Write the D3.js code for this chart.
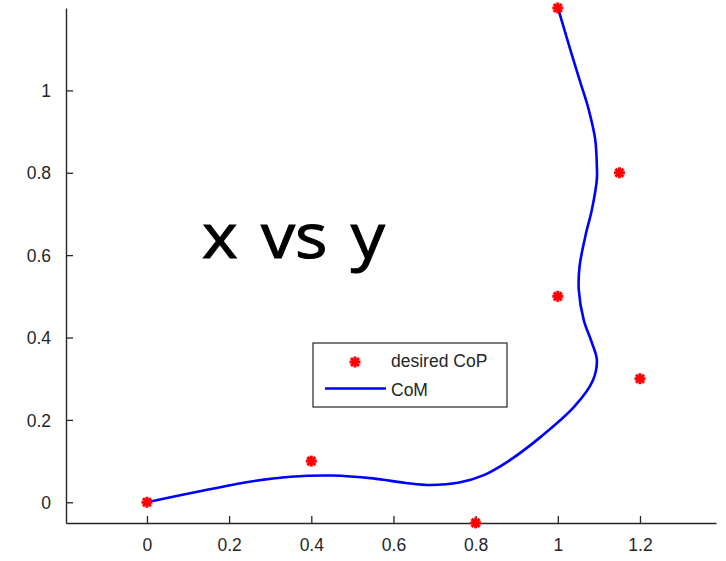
<!DOCTYPE html>
<html>
<head>
<meta charset="utf-8">
<script src="https://cdn.jsdelivr.net/npm/d3@7"></script>
<style>
  body { margin: 0; background: #fff; }
  svg { display: block; }
</style>
</head>
<body>
<div id="chart"></div>
<script>
// desired CoP points
var copX = [0, 0.4, 0.8, 1, 1.2, 1.15, 1];
var copY = [0, 0.1, -0.05, 0.5, 0.3, 0.8, 1.2];

// CoM trajectory
var comX = [0, 0.12, 0.25, 0.35, 0.45, 0.55, 0.63, 0.69, 0.76, 0.82, 0.88, 0.96, 1.04, 1.085, 1.095,
            1.083, 1.063, 1.051, 1.053, 1.067, 1.083, 1.095, 1.095, 1.091, 1.075, 1.055, 1.03, 1.006, 1];
var comY = [0, 0.025, 0.05, 0.062, 0.065, 0.058, 0.047, 0.042, 0.048, 0.066, 0.1, 0.16, 0.232, 0.295, 0.346,
            0.387, 0.443, 0.516, 0.573, 0.646, 0.711, 0.784, 0.816, 0.881, 0.954, 1.019, 1.1, 1.181, 1.2];

var xTicks = [0, 0.2, 0.4, 0.6, 0.8, 1, 1.2];
var yTicks = [0, 0.2, 0.4, 0.6, 0.8, 1];

var width = 726, height = 561;
var axisCol = "#262626";

var svg = d3.select("#chart").append("svg")
    .attr("width", width)
    .attr("height", height);

var x = d3.scaleLinear().domain([-0.197, 1.385]).range([66, 716]);
var y = d3.scaleLinear().domain([-0.0503, 1.2]).range([523, 8]);

var xAxis = d3.axisBottom(x).tickValues(xTicks).tickSizeInner(-7).tickSizeOuter(0)
    .tickPadding(16).tickFormat(d3.format("~g"));
var yAxis = d3.axisLeft(y).tickValues(yTicks).tickSizeInner(-7).tickSizeOuter(0)
    .tickPadding(15).tickFormat(d3.format("~g"));

var gx = svg.append("g")
    .attr("transform", "translate(0," + y.range()[0] + ")")
    .call(xAxis);
var gy = svg.append("g")
    .attr("transform", "translate(" + x.range()[0] + ",0)")
    .call(yAxis);

[gx, gy].forEach(function(g) {
  g.select(".domain").attr("stroke", axisCol).attr("stroke-width", 1.4);
  g.selectAll(".tick line").attr("stroke", axisCol).attr("stroke-width", 1.3);
  g.selectAll(".tick text")
    .attr("fill", axisCol)
    .style("font-family", "'Liberation Sans', Arial, sans-serif")
    .style("font-size", "17.5px");
});
gy.selectAll(".tick text").attr("dy", "0.35em");

// CoM curve
var comData = comX.map(function(d, i) { return [d, comY[i]]; });
var line = d3.line()
    .x(function(d) { return x(d[0]); })
    .y(function(d) { return y(d[1]); })
    .curve(d3.curveCatmullRom.alpha(0.5));

svg.append("path")
   .datum(comData)
   .attr("d", line)
   .attr("fill", "none")
   .attr("stroke", "#0000ff")
   .attr("stroke-width", 2.6);

// asterisk-like red markers
function star(g, cx, cy) {
  var r = 5.5, rd = 4;
  var segs = [[-r, 0, r, 0], [0, -r, 0, r], [-rd, -rd, rd, rd], [-rd, rd, rd, -rd]];
  segs.forEach(function(s) {
    g.append("line")
      .attr("x1", cx + s[0]).attr("y1", cy + s[1])
      .attr("x2", cx + s[2]).attr("y2", cy + s[3])
      .attr("stroke", "#ff0000")
      .attr("stroke-width", 3);
  });
}

var copData = copX.map(function(d, i) { return [d, copY[i]]; });
var gm = svg.append("g");
copData.forEach(function(d) { star(gm, x(d[0]), y(d[1])); });

// legend
var lg = svg.append("g").attr("transform", "translate(313,343)");
lg.append("rect")
  .attr("width", 194).attr("height", 64)
  .attr("fill", "#fff")
  .attr("stroke", axisCol)
  .attr("stroke-width", 1.2);
star(lg, 42, 19);
lg.append("line")
  .attr("x1", 12).attr("x2", 73)
  .attr("y1", 45.5).attr("y2", 45.5)
  .attr("stroke", "#0000ff")
  .attr("stroke-width", 2.6);
lg.selectAll("text.lab")
  .data(["desired CoP", "CoM"])
  .enter().append("text")
  .attr("class", "lab")
  .attr("x", 78)
  .attr("y", function(d, i) { return 24 + i * 29; })
  .attr("fill", axisCol)
  .style("font-family", "'Liberation Sans', Arial, sans-serif")
  .style("font-size", "17.5px")
  .text(function(d) { return d; });

// big overlay title
svg.append("text")
   .attr("transform", "translate(202,258) scale(1.1,1)")
   .style("font-family", "'Open Sans', 'Noto Sans', sans-serif")
   .style("font-size", "62px")
   .style("word-spacing", "5px")
   .attr("fill", "#000")
   .attr("stroke", "#000")
   .attr("stroke-width", 1)
   .text("x vs y");
</script>
</body>
</html>
